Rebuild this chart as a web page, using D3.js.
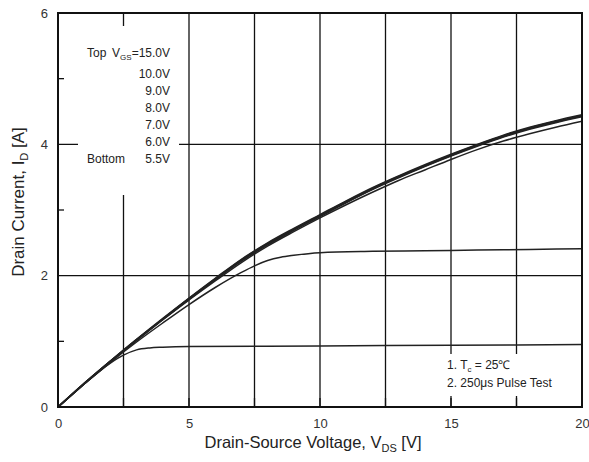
<!DOCTYPE html>
<html><head><meta charset="utf-8">
<script src="https://cdn.jsdelivr.net/npm/d3@7"></script>
<style>body{margin:0;background:#fff}svg{display:block}text{font-family:"Liberation Sans",Arial,sans-serif}</style>
</head><body>
<svg id="c" width="589" height="462"></svg>
<script>
// Data (Vds in V, Id in A)
const vdsBundle = [0,1,2,3,4,5,6,7,8,9,10,11,12,13,14,15,16,17,18,19,20];
const id15  = [0,0.36,0.70,1.03,1.35,1.66,1.96,2.25,2.50,2.72,2.93,3.14,3.34,3.52,3.69,3.85,4.00,4.14,4.26,4.36,4.45];
const id10  = [0,0.36,0.70,1.03,1.34,1.65,1.95,2.24,2.49,2.71,2.92,3.13,3.33,3.51,3.68,3.84,3.99,4.13,4.25,4.35,4.44];
const id9   = [0,0.36,0.70,1.02,1.34,1.65,1.94,2.23,2.48,2.70,2.91,3.12,3.32,3.50,3.67,3.83,3.98,4.12,4.24,4.34,4.43];
const id8   = [0,0.35,0.69,1.02,1.33,1.64,1.94,2.22,2.47,2.69,2.90,3.11,3.31,3.49,3.66,3.82,3.97,4.11,4.23,4.33,4.42];
const id7   = [0,0.35,0.69,1.01,1.33,1.63,1.92,2.20,2.45,2.67,2.88,3.08,3.27,3.45,3.61,3.77,3.92,4.05,4.16,4.26,4.35];
const vds6  = [0,1,2,3,4,5,6,7,7.5,8,8.5,9,10,12,14,16,18,20];
const id6   = [0,0.35,0.68,0.99,1.28,1.56,1.82,2.05,2.15,2.23,2.28,2.31,2.35,2.37,2.38,2.39,2.40,2.41];
const vds55 = [0,1,2,2.5,3,3.5,4,5,10,15,20];
const id55  = [0,0.35,0.67,0.79,0.87,0.90,0.91,0.92,0.93,0.94,0.95];
const xTicks = [0,5,10,15,20];
const yTicks = [0,2,4,6];
const xGrid = [2.5,5,7.5,10,12.5,15,17.5];
const yGrid = [2,4];
const yMinor = [1,3,5];
const legendVals = ["10.0V","9.0V","8.0V","7.0V","6.0V"];

const svg = d3.select("#c");
const x = d3.scaleLinear().domain([0,20]).range([58,582]);
const y = d3.scaleLinear().domain([0,6]).range([407,13]);

// grid
svg.append("g").selectAll("line").data(xGrid).join("line")
  .attr("x1",d=>x(d)).attr("x2",d=>x(d)).attr("y1",y(0)).attr("y2",y(6))
  .attr("stroke","#111").attr("stroke-width",1.3);
svg.append("g").selectAll("line").data(yGrid).join("line")
  .attr("x1",x(0)).attr("x2",x(20)).attr("y1",d=>y(d)).attr("y2",d=>y(d))
  .attr("stroke","#111").attr("stroke-width",1.3);
svg.append("g").selectAll("line").data(yMinor).join("line")
  .attr("x1",x(0)).attr("x2",x(0)+6).attr("y1",d=>y(d)).attr("y2",d=>y(d))
  .attr("stroke","#111").attr("stroke-width",1.3);

// legend box (covers grid)
svg.append("rect").attr("x",78).attr("y",26).attr("width",101).attr("height",169).attr("fill","#fff");
// notes box
svg.append("rect").attr("x",440).attr("y",354).attr("width",138).attr("height",42).attr("fill","#fff");
// small bottom ticks visible under notes
svg.append("g").selectAll("line").data(xGrid).join("line")
  .attr("x1",d=>x(d)).attr("x2",d=>x(d)).attr("y1",y(0)).attr("y2",y(0)-9)
  .attr("stroke","#111").attr("stroke-width",1.3);

// curves
const line = d3.line().x(d=>x(d[0])).y(d=>y(d[1])).curve(d3.curveMonotoneX);
const series = [
  vdsBundle.map((v,i)=>[v,id15[i]]),
  vdsBundle.map((v,i)=>[v,id10[i]]),
  vdsBundle.map((v,i)=>[v,id9[i]]),
  vdsBundle.map((v,i)=>[v,id8[i]]),
  vdsBundle.map((v,i)=>[v,id7[i]]),
  vds6.map((v,i)=>[v,id6[i]]),
  vds55.map((v,i)=>[v,id55[i]])
];
svg.append("g").selectAll("path").data(series).join("path")
  .attr("d",line).attr("fill","none").attr("stroke","#222").attr("stroke-width",1.5);

// frame
svg.append("rect").attr("x",x(0)).attr("y",y(6)).attr("width",x(20)-x(0)).attr("height",y(0)-y(6))
  .attr("fill","none").attr("stroke","#111").attr("stroke-width",2);

// axes labels using d3 axes (domain/ticks hidden, labels only)
const xAxis = svg.append("g").attr("transform",`translate(0,${y(0)})`)
  .call(d3.axisBottom(x).tickValues(xTicks).tickSize(0).tickPadding(12).tickFormat(d3.format("d")));
xAxis.select(".domain").remove();
xAxis.selectAll("text").attr("font-size",13).attr("fill","#333").attr("font-family","Liberation Sans, Arial");
const yAxis = svg.append("g").attr("transform",`translate(${x(0)},0)`)
  .call(d3.axisLeft(y).tickValues(yTicks).tickSize(0).tickPadding(10).tickFormat(d3.format("d")));
yAxis.select(".domain").remove();
yAxis.selectAll("text").attr("font-size",13).attr("fill","#333").attr("font-family","Liberation Sans, Arial");

// axis titles
const xt = svg.append("text").attr("x",313).attr("y",448).attr("text-anchor","middle")
  .attr("font-size",16.5).attr("fill","#222");
xt.append("tspan").text("Drain-Source Voltage, V");
xt.append("tspan").attr("font-size",11).attr("dy",4).text("DS");
xt.append("tspan").attr("dy",-4).text(" [V]");

const yt = svg.append("text").attr("transform","translate(24,202) rotate(-90)").attr("text-anchor","middle")
  .attr("font-size",17).attr("fill","#222");
yt.append("tspan").text("Drain Current, I");
yt.append("tspan").attr("font-size",11).attr("dy",4).text("D");
yt.append("tspan").attr("dy",-4).text(" [A]");

// legend text
const lg = svg.append("g").attr("font-size",12).attr("fill","#222");
lg.append("text").attr("x",87).attr("y",57).text("Top");
const t1 = lg.append("text").attr("x",170).attr("y",57).attr("text-anchor","end");
t1.append("tspan").text("V");
t1.append("tspan").attr("font-size",8).attr("dy",3).text("GS");
t1.append("tspan").attr("dy",-3).text("=15.0V");
lg.selectAll("text.v").data(legendVals).join("text").attr("class","v")
  .attr("x",170).attr("y",(d,i)=>78+i*17).attr("text-anchor","end").text(d=>d);
lg.append("text").attr("x",87).attr("y",163).text("Bottom");
lg.append("text").attr("x",170).attr("y",163).attr("text-anchor","end").text("5.5V");

// notes
const nt = svg.append("g").attr("font-size",12).attr("fill","#222");
const n1 = nt.append("text").attr("x",447).attr("y",369);
n1.append("tspan").text("1. T");
n1.append("tspan").attr("font-size",8).attr("dy",3).text("c");
n1.append("tspan").attr("dy",-3).text(" = 25\u2103");
nt.append("text").attr("x",447).attr("y",387).text("2. 250\u03bcs Pulse Test");
</script>
</body></html>
